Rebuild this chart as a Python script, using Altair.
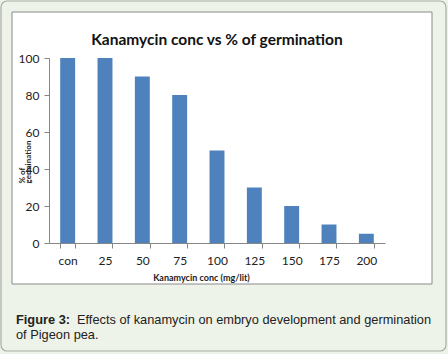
import altair as alt
import pandas as pd

categories = ["con", "25", "50", "75", "100", "125", "150", "175", "200"]
germination = [100, 100, 90, 80, 50, 30, 20, 10, 5]

title_text = "Kanamycin conc vs % of germination"
x_title = "Kanamycin conc (mg/lit)"
y_title = ["% of", "germination"]
caption_bold = "Figure 3:"
caption_line1 = "Effects of kanamycin on embryo development and germination"
caption_line2 = "of Pigeon pea."

df = pd.DataFrame({"conc": categories, "pct": germination})
one = alt.Data(values=[{}])

FONT = "Lato"

outer = alt.Chart(one).mark_rect(
    fill="#EEF3E9", stroke="#A9ADA6", strokeWidth=1.2, cornerRadius=6
).encode(x=alt.value(-48), x2=alt.value(397), y=alt.value(-57), y2=alt.value(293))

inner = alt.Chart(one).mark_rect(
    fill="white", stroke="#8A8A8A", strokeWidth=1
).encode(x=alt.value(-37), x2=alt.value(383), y=alt.value(-46), y2=alt.value(226))

bars = alt.Chart(df).mark_bar(color="#4F81BD").encode(
    x=alt.X(
        "conc:N",
        sort=categories,
        scale=alt.Scale(paddingInner=0.6, paddingOuter=0.3),
        axis=alt.Axis(
            title=x_title,
            labelAngle=0,
            tickBand="extent",
            tickSize=5,
            labelPadding=7,
            labelFont=FONT,
            labelFontSize=12,
            labelColor="#222222",
            domainColor="#868686",
            tickColor="#868686",
            titleFont=FONT,
            titleFontSize=9,
            titleFontWeight="bold",
            titleColor="#222222",
            titleX=152,
            titleY=34,
            titleAlign="center",
            titleBaseline="middle",
            zindex=1,
        ),
    ),
    y=alt.Y(
        "pct:Q",
        scale=alt.Scale(domain=[0, 100]),
        axis=alt.Axis(
            values=[0, 20, 40, 60, 80, 100],
            grid=False,
            tickSize=5,
            labelPadding=5,
            labelFont=FONT,
            labelFontSize=12,
            labelColor="#222222",
            domainColor="#868686",
            tickColor="#868686",
            title=y_title,
            titleFont=FONT,
            titleFontSize=8,
            titleFontWeight="bold",
            titleColor="#222222",
            titleAngle=-90,
            titleAlign="left",
            titleBaseline="middle",
            titleLineHeight=6,
            titleX=-27,
            titleY=125,
            zindex=1,
        ),
    ),
)

title = alt.Chart(one).mark_text(
    text=title_text, align="center", baseline="alphabetic",
    font=FONT, fontSize=15.5, fontWeight="bold", color="#111111"
).encode(x=alt.value(168), y=alt.value(-13))

cap_b = alt.Chart(one).mark_text(
    text=caption_bold, align="left", baseline="alphabetic",
    font="Liberation Sans", fontSize=12.8, fontWeight="bold", color="#222222"
).encode(x=alt.value(-33), y=alt.value(266))

cap_1 = alt.Chart(one).mark_text(
    text=caption_line1, align="left", baseline="alphabetic",
    font="Liberation Sans", fontSize=12.8, color="#222222"
).encode(x=alt.value(28), y=alt.value(266))

cap_2 = alt.Chart(one).mark_text(
    text=caption_line2, align="left", baseline="alphabetic",
    font="Liberation Sans", fontSize=12.8, color="#222222"
).encode(x=alt.value(-33), y=alt.value(281))

chart = alt.layer(outer, inner, bars, title, cap_b, cap_1, cap_2).properties(
    width=336,
    height=185,
    autosize=alt.AutoSizeParams(type="none"),
    padding={"left": 49, "top": 58, "right": 63, "bottom": 111},
).configure(background="#EEF3E9").configure_view(stroke=None)

chart.save("out.html", embed_options={"renderer": "svg", "actions": False})
